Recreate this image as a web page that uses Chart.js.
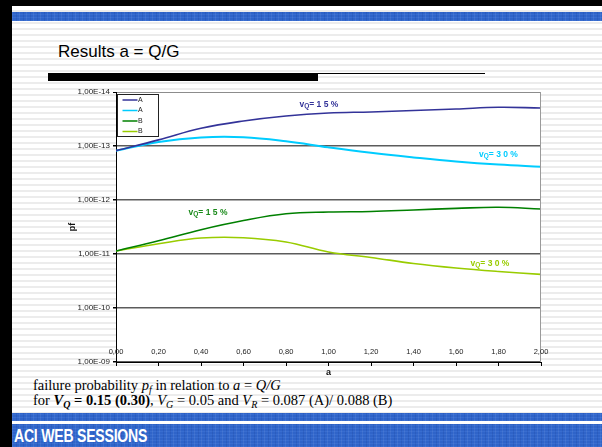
<!DOCTYPE html>
<html>
<head>
<meta charset="utf-8">
<script src="https://cdn.jsdelivr.net/npm/chart.js@4.4.1/dist/chart.umd.min.js"></script>
<style>
  html, body { margin: 0; padding: 0; }
  body {
    width: 602px; height: 447px; overflow: hidden; position: relative;
    font-family: Arial, "Liberation Sans", sans-serif;
    background: repeating-linear-gradient(to bottom, #fff 0px, #fff 4px, #ececec 4px, #ececec 6px);
  }
  .blue {
    background-color: #2f64c9;
    background-image:
      repeating-linear-gradient(90deg, rgba(255,255,255,0.07) 0 1px, transparent 1px 4px, rgba(0,20,90,0.10) 4px 5px, transparent 5px 7px),
      repeating-linear-gradient(0deg, rgba(120,170,255,0.12) 0 1px, transparent 1px 3px);
  }
  #edgeTop { position: absolute; left: 0; top: 0; width: 602px; height: 6px; background: #000; }
  #edgeLeft { position: absolute; left: 0; top: 0; width: 12px; height: 447px; background: #000; }
  #bandTop { position: absolute; left: 12px; right: 0; top: 12px; height: 9px; }
  #bandBot1 { position: absolute; left: 12px; right: 0; top: 413px; height: 8px; }
  #bandBot2 { position: absolute; left: 12px; right: 0; top: 424px; height: 23px; }
  #brand {
    position: absolute; left: 14px; top: 425px; color: #fff;
    font: bold 19px "Liberation Sans", Arial, sans-serif; letter-spacing: -0.3px;
    transform: scaleX(0.74); transform-origin: left top; white-space: nowrap;
  }
  #title { position: absolute; left: 58px; top: 42px; font-size: 17px; color: #000; white-space: nowrap; }
  #barThick { position: absolute; left: 48px; top: 73px; width: 270px; height: 8px; background: #000; }
  #barThin { position: absolute; left: 318px; top: 73px; width: 167px; height: 1px; background: #000; }
  .cap { position: absolute; left: 33px; font: 14.5px "Liberation Serif", "Times New Roman", serif; color: #000; white-space: nowrap; }
  #cap1 { top: 377px; }
  #cap2 { top: 392px; }
  sub { font-size: 10px; vertical-align: -3px; line-height: 0; }
  #chart { position: absolute; left: 0; top: 0; }
</style>
</head>
<body>
<div id="edgeTop"></div>
<div id="edgeLeft"></div>
<div id="bandTop" class="blue"></div>
<div id="title">Results a = Q/G</div>
<div id="barThick"></div>
<div id="barThin"></div>
<div id="cap1" class="cap">failure probability <i>p<sub>f</sub></i> in relation to <i>a</i> = <i>Q/G</i></div>
<div id="cap2" class="cap">for <b><i>V<sub>Q</sub></i> = 0.15 (0.30)</b>, <i>V<sub>G</sub></i> = 0.05 and <i>V<sub>R</sub></i> = 0.087 (A)/ 0.088 (B)</div>
<div id="bandBot1" class="blue"></div>
<div id="bandBot2" class="blue"></div>
<div id="brand">ACI WEB SESSIONS</div>
<canvas id="chart" width="602" height="447"></canvas>
<script>
// a = Q/G
const aValues = [0, 0.2, 0.4, 0.6, 0.8, 1.0, 1.2, 1.4, 1.6, 1.8, 2.0];
const xTickLabels = ['0,00', '0,20', '0,40', '0,60', '0,80', '1,00', '1,20', '1,40', '1,60', '1,80', '2,00'];
const yTickValues = [1e-14, 1e-13, 1e-12, 1e-11, 1e-10, 1e-9];
const yTickLabels = ['1,00E-14', '1,00E-13', '1,00E-12', '1,00E-11', '1,00E-10', '1,00E-09'];

// failure probability pf
const pfA15 = [1.22e-13, 7.7e-14, 4.7e-14, 3.44e-14, 2.78e-14, 2.45e-14, 2.34e-14, 2.2e-14, 2.07e-14, 1.92e-14, 1.98e-14];
const pfA30 = [1.22e-13, 8.4e-14, 6.96e-14, 6.9e-14, 8.18e-14, 1.06e-13, 1.34e-13, 1.63e-13, 1.94e-13, 2.21e-13, 2.41e-13];
const pfB15 = [8.8e-12, 5.7e-12, 3.55e-12, 2.4e-12, 1.8e-12, 1.67e-12, 1.63e-12, 1.53e-12, 1.43e-12, 1.36e-12, 1.47e-12];
const pfB30 = [8.8e-12, 6.45e-12, 5.06e-12, 4.99e-12, 6.0e-12, 9.18e-12, 1.16e-11, 1.5e-11, 1.82e-11, 2.11e-11, 2.38e-11];

const seriesLabels = ['A', 'A', 'B', 'B'];
const seriesColors = ['#333399', '#00ccff', '#008000', '#99cc00'];

const toPoints = arr => arr.map((v, i) => ({ x: aValues[i], y: v }));

// curve annotations, anchored in data coordinates
const notes = [
  { a: 0.955, pf: 1.67e-14, num: '1 5', color: '#333399' },
  { a: 1.80, pf: 1.41e-13, num: '3 0', color: '#00ccff' },
  { a: 0.433, pf: 1.65e-12, num: '1 5', color: '#1a8a1a' },
  { a: 1.76, pf: 1.47e-11, num: '3 0', color: '#99cc00' }
];

const slidePlugin = {
  id: 'slide',
  beforeDraw(chart) {
    const { ctx, chartArea: ca } = chart;
    ctx.save();
    ctx.fillStyle = '#fff';
    ctx.fillRect(ca.left, ca.top, ca.right - ca.left, ca.bottom - ca.top);
    ctx.restore();
  },
  afterDraw(chart) {
    const { ctx, chartArea: ca, scales: { x, y } } = chart;
    ctx.save();
    // right border of plot
    ctx.strokeStyle = '#9a9a9a';
    ctx.lineWidth = 1;
    ctx.beginPath();
    ctx.moveTo(ca.right - 0.5, ca.top);
    ctx.lineTo(ca.right - 0.5, ca.bottom);
    ctx.stroke();

    // x tick labels sit inside the plot, above the axis
    ctx.fillStyle = '#222';
    ctx.font = '7.5px Arial';
    ctx.textAlign = 'center';
    ctx.textBaseline = 'middle';
    x.ticks.forEach((t, i) => ctx.fillText(xTickLabels[i], x.getPixelForValue(t.value), ca.bottom - 10));

    // annotations "vQ= 15 %"
    ctx.textAlign = 'left';
    ctx.textBaseline = 'alphabetic';
    notes.forEach(n => {
      const px = x.getPixelForValue(n.a);
      const py = y.getPixelForValue(n.pf) + 3;
      ctx.fillStyle = n.color;
      ctx.font = 'bold 8.5px Arial';
      const w1 = ctx.measureText('v').width;
      const w3 = ctx.measureText('= ' + n.num + ' %').width;
      ctx.font = 'bold 6.5px Arial';
      const w2 = ctx.measureText('Q').width;
      let cx = px - (w1 + w2 + w3) / 2;
      ctx.font = 'bold 8.5px Arial';
      ctx.fillText('v', cx, py); cx += w1;
      ctx.font = 'bold 6.5px Arial';
      ctx.fillText('Q', cx, py + 1); cx += w2;
      ctx.font = 'bold 8.5px Arial';
      ctx.fillText('= ' + n.num + ' %', cx, py);
    });

    // legend box in the top-left corner of the plot
    const lx = ca.left + 1.5, ly = ca.top + 2.5;
    ctx.fillStyle = '#fff';
    ctx.fillRect(lx, ly, 41, 42);
    ctx.strokeStyle = '#222';
    ctx.lineWidth = 1;
    ctx.strokeRect(lx, ly, 41, 42);
    ctx.font = '7px Arial';
    ctx.textBaseline = 'middle';
    chart.data.datasets.forEach((ds, i) => {
      const ry = ly + 5.5 + i * 10.5;
      ctx.strokeStyle = ds.borderColor;
      ctx.lineWidth = 1.5;
      ctx.beginPath();
      ctx.moveTo(lx + 5, ry);
      ctx.lineTo(lx + 20, ry);
      ctx.stroke();
      ctx.fillStyle = '#222';
      ctx.fillText(ds.label, lx + 20.5, ry);
    });
    ctx.restore();
  }
};

new Chart(document.getElementById('chart'), {
  type: 'line',
  data: {
    datasets: [pfA15, pfA30, pfB15, pfB30].map((arr, i) => ({
      label: seriesLabels[i],
      data: toPoints(arr),
      borderColor: seriesColors[i],
      borderWidth: i === 1 ? 2 : 1.6,
      pointRadius: 0,
      tension: 0.4,
      fill: false
    }))
  },
  options: {
    responsive: false,
    animation: false,
    layout: { padding: { left: 66, right: 61, top: 92, bottom: 65 } },
    plugins: { legend: { display: false }, tooltip: { enabled: false } },
    scales: {
      x: {
        type: 'linear',
        min: 0,
        max: 2,
        afterBuildTicks: s => { s.ticks = aValues.map(v => ({ value: v })); },
        afterFit: s => { s.height = 20; },
        ticks: { display: false },
        grid: { drawOnChartArea: false, drawTicks: true, tickLength: 4, color: '#000' },
        border: { color: '#000', width: 1 },
        title: { display: true, text: 'a', color: '#111', font: { family: 'Arial', size: 9, weight: 'bold' }, padding: { top: 0, bottom: 4 } }
      },
      y: {
        type: 'logarithmic',
        min: 1e-14,
        max: 1e-9,
        reverse: true,
        afterBuildTicks: s => { s.ticks = yTickValues.map(v => ({ value: v })); },
        afterFit: s => { s.width = 50; },
        ticks: {
          color: '#222',
          padding: 3,
          font: { family: 'Arial', size: 8 },
          callback: (v, i) => yTickLabels[i]
        },
        grid: {
          drawTicks: true,
          tickLength: 3,
          tickColor: '#000',
          color: c => (c.index === 0 ? '#8c8c8c' : '#5c5c5c'),
          lineWidth: c => (c.index === 0 ? 1 : 1.5)
        },
        border: { color: '#000', width: 1 },
        title: { display: true, text: 'pf', color: '#111', font: { family: 'Arial', size: 9, weight: 'bold' }, padding: { top: 1, bottom: 0 } }
      }
    }
  },
  plugins: [slidePlugin]
});
</script>
</body>
</html>
